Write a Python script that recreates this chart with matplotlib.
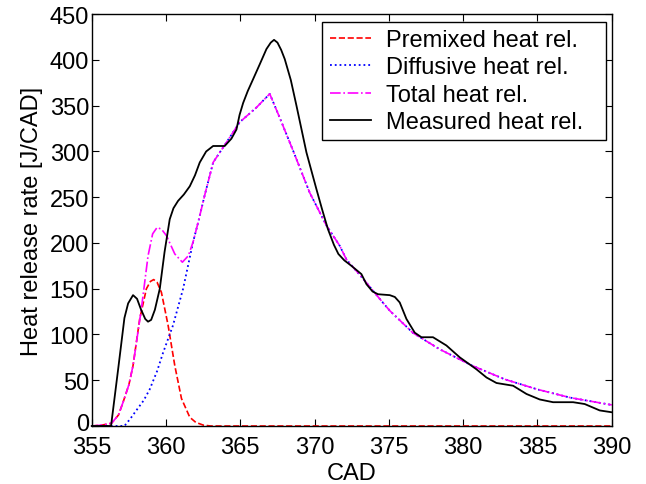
import numpy as np
import matplotlib.pyplot as plt
import matplotlib.transforms as mtransforms

plt.rcParams['font.family'] = ['Liberation Sans', 'DejaVu Sans']

# measured heat release
cad_meas = [355.0, 356.3, 356.8, 357.2, 357.45, 357.78, 358.05, 358.3, 358.6, 358.79, 359.0,
            359.25, 359.58, 359.9, 360.25, 360.5, 360.81, 361.2, 361.6, 361.95, 362.27,
            362.7, 363.17, 363.95, 364.4, 364.74, 364.95, 365.19, 365.5, 365.86, 366.3,
            366.76, 367.05, 367.27, 367.5, 367.75, 367.99, 368.4, 368.78, 369.45, 370.12,
            370.5, 370.9, 371.3, 371.6, 372.0, 372.48, 373.15, 373.49, 373.9, 374.27,
            375.06, 375.4, 375.73, 376.18, 376.74, 377.19, 377.97, 378.87, 379.77, 380.89,
            381.57, 382.24, 383.36, 384.26, 385.15, 386.05, 387.4, 388.18, 389.19, 390.0]
q_meas = [0, 0, 65, 118, 134, 143, 139, 128, 117, 114, 116,
          127, 150, 190, 226, 238, 246, 253, 262, 274, 288,
          300, 306, 306, 314, 324, 340, 353, 366, 379, 395,
          412, 419, 422, 419, 411, 401, 378, 350, 299, 259,
          237, 215, 198, 188, 181, 175, 166, 155, 147, 144,
          143, 141, 135, 117, 102, 97, 97, 88, 75, 62,
          53, 47, 44, 35, 29, 26, 26, 24, 17, 15]

# premixed heat release
cad_pre = [355.0, 355.7, 356.33, 356.8, 357.11, 357.5, 357.78, 358.23, 358.68, 358.95,
           359.17, 359.4, 359.69, 360.14, 360.59, 361.04, 361.6, 362.0, 362.5, 363.0, 390.0]
q_pre = [0, 1, 3, 12, 26, 45, 66, 117, 150, 158,
         160, 157, 146, 110, 66, 30, 9.5, 4, 1, 0, 0]

# diffusive part before it merges with the total
cad_dif_early = [355.0, 357.2, 357.6, 358.0, 358.5, 358.9, 359.4, 359.8, 360.47, 361.15]
q_dif_early = [0, 0, 8, 17, 28, 40, 60, 80, 110, 150]

# total part before it merges with the diffusive
cad_tot_early = [355.0, 355.7, 356.33, 356.8, 357.11, 357.5, 357.78, 358.34, 358.79, 359.1,
                 359.4, 359.7, 360.03, 360.59, 361.1, 361.5]
q_tot_early = [0, 1, 3, 12, 26, 45, 66, 128, 186, 210,
               217, 215, 208, 188, 179, 186]

# shared tail (total == diffusive)
cad_tail = [361.82, 362.2, 362.6, 363.17, 364.07, 364.96, 366.08, 366.98, 367.65, 368.55,
            369.67, 370.8, 371.69, 372.14, 373.26, 374.38, 375.06, 376.6, 378.4, 380.6,
            382.8, 385.0, 387.2, 390.0]
q_tail = [201, 225, 252, 288, 310, 332, 348, 363, 337, 301,
          255, 219, 197, 182, 161, 139, 126, 102, 84, 66,
          51, 40, 31, 23]

cad_dif = cad_dif_early + cad_tail
q_dif = q_dif_early + q_tail
cad_tot = cad_tot_early + cad_tail
q_tot = q_tot_early + q_tail

fig = plt.figure(figsize=(6.46, 4.85), dpi=100)
ax = fig.add_axes([0.142, 0.1196, 0.805, 0.849])

ax.plot(cad_pre, q_pre, '--', color='red', lw=1.2, label='Premixed heat rel.', clip_on=False)
ax.plot(cad_dif, q_dif, ':', color='blue', lw=1.3, label='Diffusive heat rel.', clip_on=False)
ax.plot(cad_tot, q_tot, '-.', color='magenta', lw=1.2, label='Total heat rel.', clip_on=False)
ax.plot(cad_meas, q_meas, '-', color='black', lw=1.3, label='Measured heat rel.', clip_on=False)

ax.set_xlim(355, 390)
ax.set_ylim(0, 450)
ax.set_xticks(np.arange(355, 391, 5))
ax.set_yticks(np.arange(0, 451, 50))
ax.tick_params(direction='in', top=True, right=True, length=5, labelsize=17)
ax.tick_params(axis='x', pad=7)
ax.tick_params(axis='y', pad=2)
for s in ax.spines.values():
    s.set_linewidth(1.0)

# lift the "0" label a little so it clears the "355" below it
fig.canvas.draw()
lbl0 = ax.get_yticklabels()[0]
lbl0.set_transform(lbl0.get_transform() + mtransforms.ScaledTranslation(0, 3 / 72, fig.dpi_scale_trans))

ax.set_xlabel('CAD', fontsize=17, labelpad=3)
ax.set_ylabel('Heat release rate [J/CAD]', fontsize=17, labelpad=5)

leg = ax.legend(loc='upper left', bbox_to_anchor=(0.4437, 0.5, 0.5448, 0.4813), mode='expand',
                fontsize=17, handlelength=1.75, handletextpad=0.62, labelspacing=0.23,
                borderpad=0.3, borderaxespad=0, fancybox=False, framealpha=1)
leg.get_frame().set_edgecolor('black')
leg.get_frame().set_linewidth(1.0)

fig.savefig('out.png', dpi=100)
